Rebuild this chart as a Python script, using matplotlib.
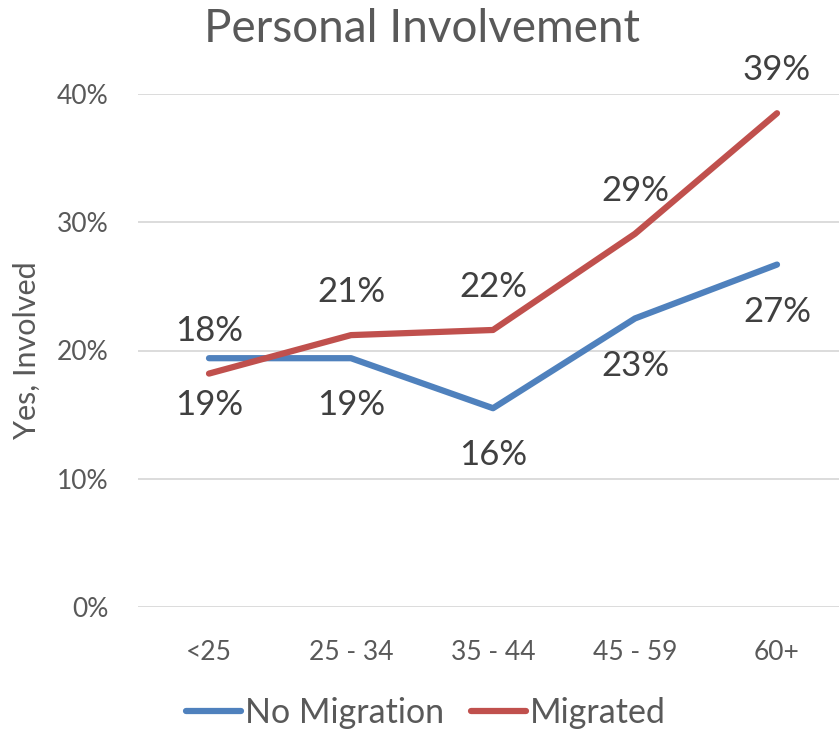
import matplotlib
matplotlib.use("Agg")
import matplotlib.pyplot as plt

# Chart data
age_groups = ["<25", "25 - 34", "35 - 44", "45 - 59", "60+"]
no_migration = [19.4, 19.4, 15.5, 22.5, 26.7]
migrated = [18.2, 21.2, 21.6, 29.1, 38.5]
no_migration_labels = ["19%", "19%", "16%", "23%", "27%"]
migrated_labels = ["18%", "21%", "22%", "29%", "39%"]
y_ticks = [0, 10, 20, 30, 40]
y_tick_labels = ["0%", "10%", "20%", "30%", "40%"]

plt.rcParams['font.family'] = ['Lato', 'DejaVu Sans']
gray = '#595959'
blue = '#4F81BD'
red = '#C0504D'

fig = plt.figure(figsize=(8.39, 7.32), dpi=100)
ax = fig.add_axes([138 / 839, 125 / 732, 710 / 839, 513 / 732])

x = list(range(len(age_groups)))
ax.plot(x, no_migration, color=blue, lw=4.5, solid_capstyle='round', label='No Migration')
ax.plot(x, migrated, color=red, lw=4.5, solid_capstyle='round', label='Migrated')

# Data labels: migrated above, no migration below
for xi, v, s in zip(x, migrated, migrated_labels):
    ax.annotate(s, (xi, v), xytext=(0, 31), textcoords='offset points',
                ha='center', va='center', fontsize=25, color='#404040',
                annotation_clip=False)
for xi, v, s in zip(x, no_migration, no_migration_labels):
    ax.annotate(s, (xi, v), xytext=(0, -34), textcoords='offset points',
                ha='center', va='center', fontsize=25, color='#404040',
                annotation_clip=False)

ax.set_xlim(-0.5, 4.5)
ax.set_ylim(0, 40)
ax.set_xticks(x)
ax.set_xticklabels(age_groups)
ax.set_yticks(y_ticks)
ax.set_yticklabels(y_tick_labels)
ax.tick_params(axis='both', length=0, labelsize=19, labelcolor=gray)
ax.tick_params(axis='y', pad=21)
ax.tick_params(axis='x', pad=24)
ax.grid(axis='y', color='#D9D9D9', lw=1.3)
ax.set_axisbelow(True)
for sp in ax.spines.values():
    sp.set_visible(False)

ax.set_ylabel("Yes, Involved", fontsize=22, color=gray, labelpad=12)
fig.text(422 / 839, 1 - 29 / 732, "Personal Involvement", ha='center', va='center',
         fontsize=33, color=gray)

fig.legend(loc='center', bbox_to_anchor=(426 / 839, 1 - 713 / 732), ncol=2,
           frameon=False, fontsize=24.5, labelcolor=gray, handlelength=1.6,
           handletextpad=0.12, columnspacing=0.8)

fig.savefig("out.png", dpi=100)
